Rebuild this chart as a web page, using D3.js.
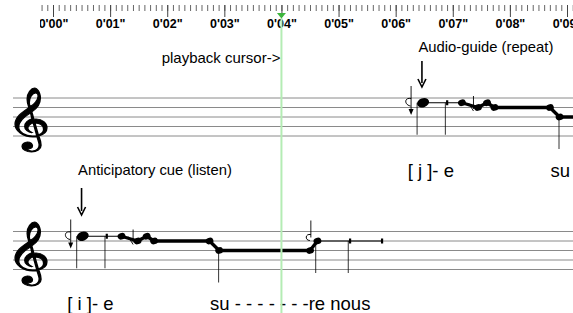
<!DOCTYPE html>
<html>
<head>
<meta charset="utf-8">
<script src="https://cdn.jsdelivr.net/npm/d3@7"></script>
<style>
  body { margin: 0; background: #fff; }
  svg { display: block; font-family: "Liberation Sans", Arial, sans-serif; }
</style>
</head>
<body>
<svg id="chart" width="573" height="313"></svg>
<script>
// time axis (seconds)
var secondTicks = d3.range(0, 10);
var minorTicks = d3.range(-2, 97).map(function(i){ return i / 10; });
var cursorTime = 4.0;
var repeatOffset = 5.96;   // audio-guide repeat comes ~6s after the cue

// phrase, staff steps counted down from top line (1 = E5, 2 = D5, 4 = B4)
var noteTimes = [0.52, 1.20, 1.48, 1.64, 1.77, 2.74, 2.91, 4.50, 4.63];
var noteSteps = [1, 1, 2, 1, 2, 2, 4, 4, 2];
var noteLinks = ["thin", "thick", "thick", "thick", "thick", "thick", "thick", "thick", "thin"];
var lineEnd = 5.76;

var stemTimes = [0.415, 0.91, 2.90, 4.60, 5.17];
var stemSteps = [1, 1, 4, 2, 2];

var barTimes = [0.94, 5.20, 5.76];
var barSteps = [1, 2, 2];

var graceTimes = [0.31, 1.35, 4.48];
var graceKinds = ["arrow", "slash", "hook"];

var cueTime = 0.50;
var lyricTimes = [0.25, 2.75];
var lyricsCue = ["[ i ]- e", "su - - - - - - -re nous"];
var lyricsRepeat = ["[ j ]- e", "su"];

/***********************************************************************************************************/

var svg = d3.select("#chart");
var x = d3.scaleLinear().domain([0, 9]).range([53, 567]);

svg.append("defs").append("clipPath").attr("id", "axisclip")
  .append("rect").attr("x", 40).attr("y", 0).attr("width", 540).attr("height", 40);

var axisG = svg.append("g").attr("clip-path", "url(#axisclip)");

var minorAxis = axisG.append("g").attr("transform", "translate(0,5)")
  .call(d3.axisBottom(x).tickValues(minorTicks).tickSize(6).tickFormat(""));
minorAxis.select(".domain").remove();
minorAxis.selectAll("line").attr("stroke", "#666");

var majorAxis = axisG.append("g").attr("transform", "translate(0,5)")
  .call(d3.axisBottom(x).tickValues(secondTicks).tickSize(12).tickPadding(2)
    .tickFormat(function(d){ return "0'0" + d + "\""; }));
majorAxis.select(".domain").remove();
majorAxis.selectAll("line").attr("stroke", "#444");
majorAxis.selectAll("text").attr("font-size", 12.5).attr("font-weight", "bold")
  .attr("fill", "#000").attr("font-family", "Liberation Sans, Arial, sans-serif");

/***********************************************************************************************************/

var space = 9.5;
function yStep(top, s){ return top + s * space / 2; }

function drawStaff(top, offset, lyrics, label, labelY, arrowTop, arrowBottom){
  var g = svg.append("g");

  g.selectAll(".staffline").data(d3.range(5)).enter().append("line")
    .attr("x1", 13).attr("x2", 573)
    .attr("y1", function(d){ return top + d * space; })
    .attr("y2", function(d){ return top + d * space; })
    .attr("stroke", "#8a8a8a").attr("stroke-width", 1);

  g.append("text")
    .attr("transform", "translate(6," + (top + 38) + ") scale(1.4,1)")
    .attr("font-family", "DejaVu Sans, Noto Sans, sans-serif")
    .attr("font-size", 54).attr("stroke", "#000").attr("stroke-width", 1)
    .text("\uD834\uDD1E");

  var pts = noteTimes.map(function(t, i){ return [x(t + offset), yStep(top, noteSteps[i])]; });

  // links between notes
  noteTimes.forEach(function(t, i){
    var a = pts[i];
    var b = i < noteTimes.length - 1 ? pts[i + 1] : [x(lineEnd + offset), a[1]];
    g.append("line").attr("x1", a[0]).attr("y1", a[1]).attr("x2", b[0]).attr("y2", b[1])
      .attr("stroke", "#000").attr("stroke-width", noteLinks[i] === "thick" ? 3.3 : 1.2);
  });

  // stems
  stemTimes.forEach(function(t, i){
    var sy = yStep(top, stemSteps[i]);
    g.append("line").attr("x1", x(t + offset)).attr("x2", x(t + offset))
      .attr("y1", sy).attr("y2", sy + 32).attr("stroke", "#000").attr("stroke-width", 0.8);
  });

  // small bar marks on the line
  barTimes.forEach(function(t, i){
    var by = yStep(top, barSteps[i]);
    g.append("rect").attr("x", x(t + offset) - 1).attr("y", by - 2.5)
      .attr("width", 2.2).attr("height", 5).attr("fill", "#000");
  });

  // note heads
  g.selectAll(".head").data(pts).enter().append("ellipse")
    .attr("cx", function(d){ return d[0]; }).attr("cy", function(d){ return d[1]; })
    .attr("rx", function(d, i){ return i === 0 ? 6.2 : 4; })
    .attr("ry", function(d, i){ return i === 0 ? 4.5 : 3.3; })
    .attr("transform", function(d){ return "rotate(-20," + d[0] + "," + d[1] + ")"; })
    .attr("fill", "#000");

  // grace marks
  graceTimes.forEach(function(t, i){
    var gx = x(t + offset);
    if (graceKinds[i] === "arrow"){
      g.append("line").attr("x1", gx).attr("x2", gx).attr("y1", top - 12).attr("y2", top + 14)
        .attr("stroke", "#000").attr("stroke-width", 0.9);
      g.append("path").attr("d", "M" + (gx - 2.5) + "," + (top + 11) + "L" + gx + "," + (top + 17) + "L" + (gx + 2.5) + "," + (top + 11) + "Z")
        .attr("fill", "#000");
      g.append("path").attr("d", "M" + gx + "," + (top + 0.5) + "C" + (gx - 7) + "," + (top - 1) + " " + (gx - 7) + "," + (top + 7) + " " + (gx - 0.5) + "," + (top + 8))
        .attr("fill", "none").attr("stroke", "#000").attr("stroke-width", 1);
    } else if (graceKinds[i] === "slash"){
      g.append("line").attr("x1", gx + 3).attr("x2", gx + 3).attr("y1", top - 2).attr("y2", top + 11)
        .attr("stroke", "#000").attr("stroke-width", 0.9);
      g.append("path").attr("d", "M" + (gx - 2) + "," + (top + 5) + "L" + (gx + 3) + "," + (top + 13))
        .attr("stroke", "#000").attr("stroke-width", 0.9);
    } else {
      g.append("line").attr("x1", gx + 2).attr("x2", gx + 2).attr("y1", top - 11).attr("y2", top + 6)
        .attr("stroke", "#000").attr("stroke-width", 0.9);
      g.append("path").attr("d", "M" + (gx + 2) + "," + (top + 3) + "C" + (gx - 4) + "," + (top + 2) + " " + (gx - 4) + "," + (top + 9) + " " + (gx + 1) + "," + (top + 9))
        .attr("fill", "none").attr("stroke", "#000").attr("stroke-width", 1);
    }
  });

  // cue arrow and its label
  var ax = x(cueTime + offset);
  g.append("line").attr("x1", ax).attr("x2", ax).attr("y1", top + arrowTop).attr("y2", top + arrowBottom - 4)
    .attr("stroke", "#000").attr("stroke-width", 1.6);
  g.append("path").attr("d", "M" + (ax - 4) + "," + (top + arrowBottom - 8) + "L" + ax + "," + (top + arrowBottom) + "L" + (ax + 4) + "," + (top + arrowBottom - 8))
    .attr("fill", "none").attr("stroke", "#000").attr("stroke-width", 1.6);
  g.append("text").attr("x", ax - 3.5).attr("y", top + labelY)
    .attr("font-size", 14.8).attr("fill", "#000").text(label);

  // lyrics
  lyricTimes.forEach(function(t, i){
    g.append("text").attr("x", x(t + offset)).attr("y", top + 78.5)
      .attr("font-size", 18.5).attr("fill", "#000").text(lyrics[i]);
  });
}

drawStaff(98, repeatOffset, lyricsRepeat, "Audio-guide (repeat)", -46.3, -37, -11);
drawStaff(231.5, 0, lyricsCue, "Anticipatory cue (listen)", -56.5, -43.5, -16.5);

/***********************************************************************************************************/
// playback cursor

var cx = x(cursorTime);
svg.append("line").attr("x1", cx).attr("x2", cx).attr("y1", 18).attr("y2", 313)
  .attr("stroke", "#b4ecb4").attr("stroke-width", 2);
svg.append("path").attr("d", "M" + (cx - 4.5) + ",13L" + (cx + 4.5) + ",13L" + cx + ",18.5Z")
  .attr("fill", "#3db53d");
svg.append("text").attr("x", cx - 1).attr("y", 63.3).attr("text-anchor", "end")
  .attr("font-size", 15).attr("fill", "#000").text("playback cursor->");
</script>
</body>
</html>
